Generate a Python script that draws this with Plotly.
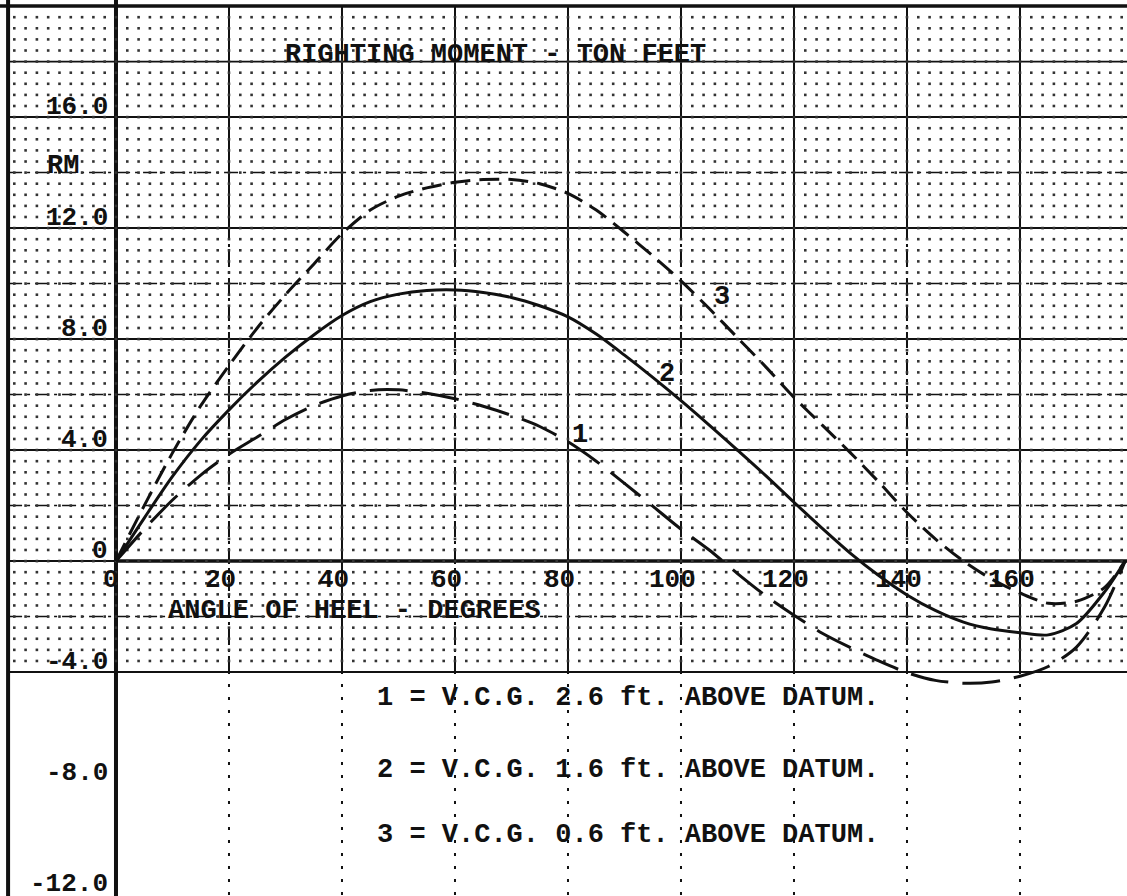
import numpy as np
import plotly.graph_objects as go

# ---------------- data ----------------
angle = [0, 5, 10, 15, 20, 25, 30, 35, 40, 45, 50, 55, 60, 65, 70, 75, 80, 85, 90,
         95, 100, 105, 110, 115, 120, 125, 130, 135, 140, 145, 150, 155, 160, 165,
         170, 175, 178.6]

# curve 1 : V.C.G. 2.6 ft above datum (long dashes)
rm_vcg_26 = [0, 1.15, 2.2, 3.1, 3.85, 4.47, 5.1, 5.6, 5.95, 6.15, 6.17, 6.05, 5.85,
             5.58, 5.25, 4.85, 4.3, 3.6, 2.8, 1.98, 1.15, 0.4, -0.45, -1.25, -1.95,
             -2.6, -3.12, -3.6, -4.02, -4.3, -4.4, -4.36, -4.15, -3.8, -3.1, -1.65, 0]

# curve 2 : V.C.G. 1.6 ft above datum (solid)
rm_vcg_16 = [0, 1.55, 3.05, 4.35, 5.45, 6.45, 7.35, 8.15, 8.85, 9.35, 9.62, 9.75, 9.77,
             9.68, 9.5, 9.2, 8.8, 8.18, 7.42, 6.62, 5.78, 4.9, 4.0, 3.08, 2.12, 1.18, 0.28,
             -0.52, -1.22, -1.78, -2.2, -2.45, -2.58, -2.66, -2.25, -1.1, 0]

# curve 3 : V.C.G. 0.6 ft above datum (short dashes)
rm_vcg_06 = [0, 2.0, 3.9, 5.6, 7.05, 8.4, 9.6, 10.7, 11.8, 12.65, 13.15, 13.45, 13.65,
             13.75, 13.75, 13.6, 13.25, 12.65, 11.85, 11.0, 10.1, 9.1, 8.05, 7.0, 5.9,
             4.9, 3.9, 2.85, 1.75, 0.8, 0.0, -0.65, -1.15, -1.52, -1.45, -0.95, 0]

x_ticks = [0, 20, 40, 60, 80, 100, 120, 140, 160]
x_tick_labels = ["0", "20", "40", "60", "80", "100", "120", "140", "160"]
y_ticks = [16, 12, 8, 4, 0, -4, -8, -12]
y_tick_labels = ["16.0", "12.0", "8.0", "4.0", "0", "-4.0", "-8.0", "-12.0"]

title_text = "RIGHTING MOMENT - TON FEET"
y_label = "RM"
x_label = "ANGLE OF HEEL - DEGREES"
curve_labels = ["1", "2", "3"]
legend_lines = ["1 = V.C.G. 2.6 ft. ABOVE DATUM.",
                "2 = V.C.G. 1.6 ft. ABOVE DATUM.",
                "3 = V.C.G. 0.6 ft. ABOVE DATUM."]

# ---------------- layout geometry ----------------
W, H = 1127, 896
X_RANGE = [-20.53, 178.94]
Y_RANGE = [-12.07, 20.22]
FONT = "Liberation Mono, DejaVu Sans Mono, monospace"
INK = "#111111"


def px(p):
    return p / W


def py(p):
    return 1 - p / H


fig = go.Figure()

# dot grid of the graph paper (2 deg x 0.4 RM) above -4
gx, gy = np.meshgrid(np.arange(-18, 179, 2), np.arange(-3.6, 20, 0.4))
fig.add_trace(go.Scatter(x=gx.ravel(), y=gy.ravel(), mode="markers",
                         marker=dict(symbol="square", size=2.6, color="#333333", line=dict(width=0)),
                         hoverinfo="skip", showlegend=False))

shapes = []


def hline(y, x0, x1, width, dash="solid", color=INK):
    shapes.append(dict(type="line", xref="x", yref="y", x0=x0, x1=x1, y0=y, y1=y,
                       line=dict(color=color, width=width, dash=dash), layer="below"))


def vline(x, y0, y1, width, dash="solid", color=INK):
    shapes.append(dict(type="line", xref="x", yref="y", x0=x, x1=x, y0=y0, y1=y1,
                       line=dict(color=color, width=width, dash=dash), layer="below"))


LEFT = -19.1
# horizontal grid
hline(20.0, -22, 182, 3.5)
hline(18, LEFT, 182, 1.6)
for v in [16, 12, 8, 4]:
    hline(v, LEFT, 182, 2)
for v in [14, 10, 6, 2, -2]:
    hline(v, LEFT, 182, 1.5, dash="14px,5px,3px,5px")
hline(0, LEFT, 0, 2)
hline(-4, LEFT, 182, 2)

# vertical grid
for v in x_ticks[1:]:
    if v % 40 == 0:
        vline(v, -4, 20, 2)
    else:
        vline(v, 12, 20, 2)
        vline(v, -4, 12, 2, dash="16px,4px,3px,4px")
    vline(v, -12.5, -4, 2, dash="3px,10px")

# borders / axes
vline(LEFT, -13, 21, 4)
vline(0, -13, 21, 4)
hline(0, 0, 182, 3.5)

# ---------------- curves ----------------
common = dict(mode="lines", line_shape="spline", hoverinfo="skip", showlegend=False)
fig.add_trace(go.Scatter(x=angle, y=rm_vcg_26, name=legend_lines[0],
                         line=dict(color=INK, width=3, dash="38px,14px", smoothing=0.8), **common))
fig.add_trace(go.Scatter(x=angle, y=rm_vcg_16, name=legend_lines[1],
                         line=dict(color=INK, width=3, smoothing=0.8), **common))
fig.add_trace(go.Scatter(x=angle, y=rm_vcg_06, name=legend_lines[2],
                         line=dict(color=INK, width=3, dash="20px,9px", smoothing=0.8), **common))

# ---------------- texts ----------------
ann = []
for v, t in zip(y_ticks, y_tick_labels):
    ann.append(dict(xref="x", yref="y", x=0, y=v, text="<b>%s</b>" % t, showarrow=False,
                    xanchor="right", yanchor="bottom", xshift=-6, yshift=-7,
                    font=dict(family=FONT, size=26, color=INK)))
for v, t in zip(x_ticks, x_tick_labels):
    ann.append(dict(xref="x", yref="y", x=v, y=0, text="<b>%s</b>" % t, showarrow=False,
                    xanchor="center", yanchor="top", xshift=-8 if v else -5, yshift=-2,
                    font=dict(family=FONT, size=26, color=INK)))


def text_at(t, x, y, anchor="left", size=27):
    ann.append(dict(xref="paper", yref="paper", x=px(x), y=py(y), text="<b>%s</b>" % t,
                    showarrow=False, xanchor=anchor, yanchor="middle",
                    font=dict(family=FONT, size=size, color=INK)))


text_at(title_text, 283, 55)
text_at(y_label, 45, 166)
text_at(x_label, 166, 611)
for t, (cx, cy) in zip(curve_labels, [(580, 435), (667, 374), (722, 297)]):
    text_at(t, cx, cy, anchor="center")
for t, cy in zip(legend_lines, [698, 770, 835]):
    text_at(t, 375, cy)

fig.update_layout(
    width=W, height=H, margin=dict(l=0, r=0, t=0, b=0),
    paper_bgcolor="white", plot_bgcolor="white",
    xaxis=dict(range=X_RANGE, visible=False, showgrid=False, zeroline=False, fixedrange=True),
    yaxis=dict(range=Y_RANGE, visible=False, showgrid=False, zeroline=False, fixedrange=True),
    shapes=shapes, annotations=ann, showlegend=False,
)

fig.write_html("out.html", config={"displayModeBar": False},
               post_script="document.body.style.margin='0px';document.body.style.overflow='hidden';")
